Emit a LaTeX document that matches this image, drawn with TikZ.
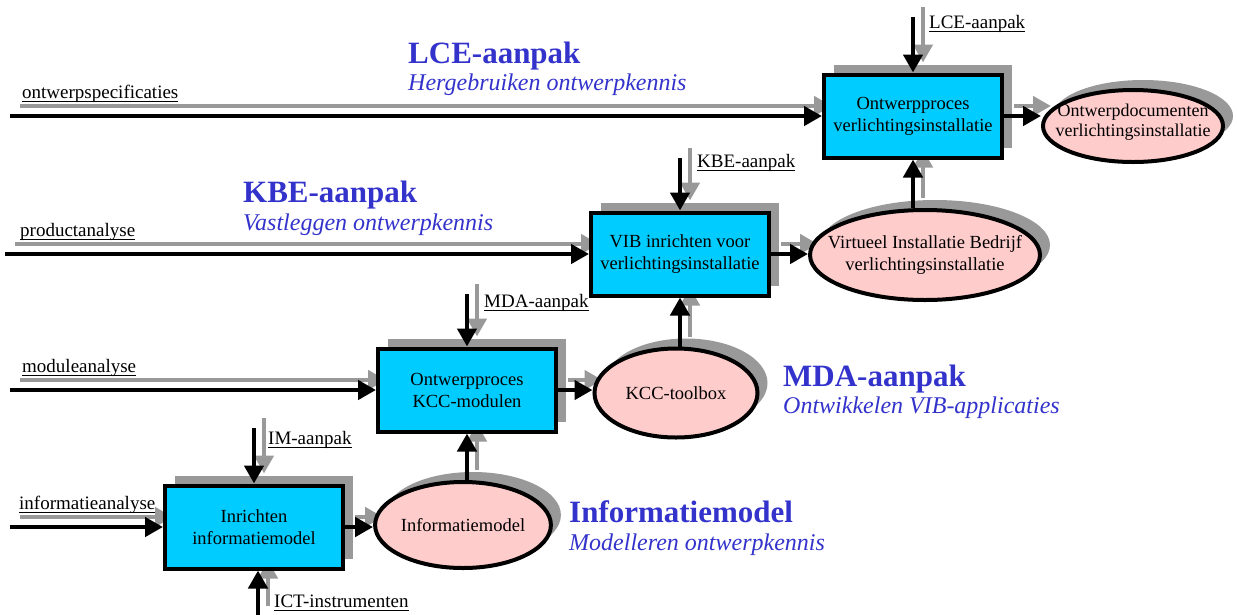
\documentclass[tikz,border=0pt]{standalone}
\usepackage{fontspec}
\setmainfont{Liberation Serif}
\usetikzlibrary{shapes.geometric,arrows.meta,shadows}
\definecolor{boxcyan}{HTML}{00CCFF}
\definecolor{ellpink}{HTML}{FFCCCC}
\definecolor{shgray}{HTML}{999999}
\definecolor{titleblue}{HTML}{3333CC}
\newsavebox\ulsave
\newcommand\ulbox[1]{\sbox\ulsave{#1}\rlap{\vrule height -2.6pt depth 3.9pt width \wd\ulsave}\usebox\ulsave}
\pgfdeclarelayer{shadowlayer}
\pgfsetlayers{shadowlayer,main}
\newcommand\twin[1]{%
  \begin{pgfonlayer}{shadowlayer}\draw[grayarrow] #1;\end{pgfonlayer}%
  \draw[blackarrow] #1;}
\tikzset{
  myshadow/.style={drop shadow={shadow xshift=10pt, shadow yshift=10pt, opacity=1, fill=shgray}},
  procbox/.style={draw=black, line width=4pt, fill=boxcyan, minimum width=178pt, minimum height=83pt,
    align=center, inner sep=0pt, font=\fontsize{18.5}{22}\selectfont, myshadow},
  result/.style={ellipse, draw=black, line width=4pt, fill=ellpink, inner sep=0pt,
    align=center, font=\fontsize{18.5}{22}\selectfont, myshadow},
  restext/.style={align=center, inner sep=0pt, font=\fontsize{18.5}{22}\selectfont},
  flowlabel/.style={anchor=base west, inner sep=0pt, font=\fontsize{19}{22}\selectfont},
  maintitle/.style={anchor=base west, inner sep=0pt, text=titleblue, font=\fontsize{31}{36}\selectfont\bfseries},
  subtitle/.style={anchor=base west, inner sep=0pt, text=titleblue, font=\fontsize{24}{28}\selectfont\itshape},
  blackarrow/.style={line width=4.5pt, -{Triangle[length=18pt,width=19pt]}},
  grayarrow/.style={blackarrow, draw=shgray, transform canvas={xshift=10pt,yshift=10pt}},
}
\begin{document}
\begin{tikzpicture}[x=1pt,y=-1pt]
\useasboundingbox (0,0) rectangle (1237,614);

% process boxes
\node[procbox] (b1) at (913,116) {Ontwerpproces\\verlichtingsinstallatie};
\node[procbox] (b2) at (680,254) {VIB inrichten voor\\verlichtingsinstallatie};
\node[procbox] (b3) at (467,390) {Ontwerpproces\\KCC-modulen};
\node[procbox] (b4) at (254,527) {Inrichten\\informatiemodel};

% results
\node[result, minimum width=180pt, minimum height=72pt] (e1) at (1133,126) {};
\node[restext, font=\fontsize{18}{20}\selectfont] (e1t) at (1133,122) {Ontwerpdocumenten\\verlichtingsinstallatie};
\node[result, minimum width=230pt, minimum height=90pt] (e2) at (925,255) {};
\node[restext] (e2t) at (e2.center) {Virtueel Installatie Bedrijf\\verlichtingsinstallatie};
\node[result, minimum width=163pt, minimum height=89pt] (e3) at (676,393) {KCC-toolbox};
\node[result, minimum width=171pt, minimum height=86pt] (e4) at (463,525) {Informatiemodel};

% free ends
\coordinate (in1) at (10,116);
\coordinate (in2) at (5,254);
\coordinate (in3) at (10,390);
\coordinate (in4) at (10,527);
\coordinate (c1) at (913,17);
\coordinate (c2) at (680,158);
\coordinate (c3) at (467,294);
\coordinate (c4) at (254,428);
\coordinate (c5) at (258,616);

% inputs
\twin{(in1) -- (b1.west)}
\twin{(in2) -- (b2.west)}
\twin{(in3) -- (b3.west)}
\twin{(in4) -- (b4.west)}
% controls
\twin{(c1) -- (b1.north)}
\twin{(c2) -- (b2.north)}
\twin{(c3) -- (b3.north)}
\twin{(c4) -- (b4.north)}
\twin{(c5) -- (c5 |- b4.south)}
% outputs
\twin{(b1.east) -- (b1.east -| e1.west)}
\twin{(b2.east) -- (b2.east -| e2.west)}
\twin{(b3.east) -- (b3.east -| e3.west)}
\twin{(b4.east) -- (b4.east -| e4.west)}
% feedback upward
\twin{(b1.south |- e2.north) -- (b1.south)}
\twin{(b2.south |- e3.north) -- (b2.south)}
\twin{(b3.south |- e4.north) -- (b3.south)}

% labels
\node[flowlabel] (l1) at (22,98) {\ulbox{ontwerpspecificaties}};
\node[flowlabel] (l2) at (20,236) {\ulbox{productanalyse}};
\node[flowlabel] (l3) at (22,372) {\ulbox{moduleanalyse}};
\node[flowlabel] (l4) at (19,509) {\ulbox{informatieanalyse}};
\node[flowlabel] (k1) at (929,28) {\ulbox{LCE-aanpak}};
\node[flowlabel] (k2) at (697,167) {\ulbox{KBE-aanpak}};
\node[flowlabel] (k3) at (484,307) {\ulbox{MDA-aanpak}};
\node[flowlabel] (k4) at (268,444) {\ulbox{IM-aanpak}};
\node[flowlabel] (k5) at (274,607) {\ulbox{ICT-instrumenten}};

% titles
\node[maintitle] (t1) at (408,63) {LCE-aanpak};
\node[subtitle] (s1) at (408,90) {Hergebruiken ontwerpkennis};
\node[maintitle] (t2) at (243,202) {KBE-aanpak};
\node[subtitle] (s2) at (243,230) {Vastleggen ontwerpkennis};
\node[maintitle] (t3) at (783,386) {MDA-aanpak};
\node[subtitle] (s3) at (783,413) {Ontwikkelen VIB-applicaties};
\node[maintitle] (t4) at (569,522) {Informatiemodel};
\node[subtitle] (s4) at (569,550) {Modelleren ontwerpkennis};
\end{tikzpicture}
\end{document}
